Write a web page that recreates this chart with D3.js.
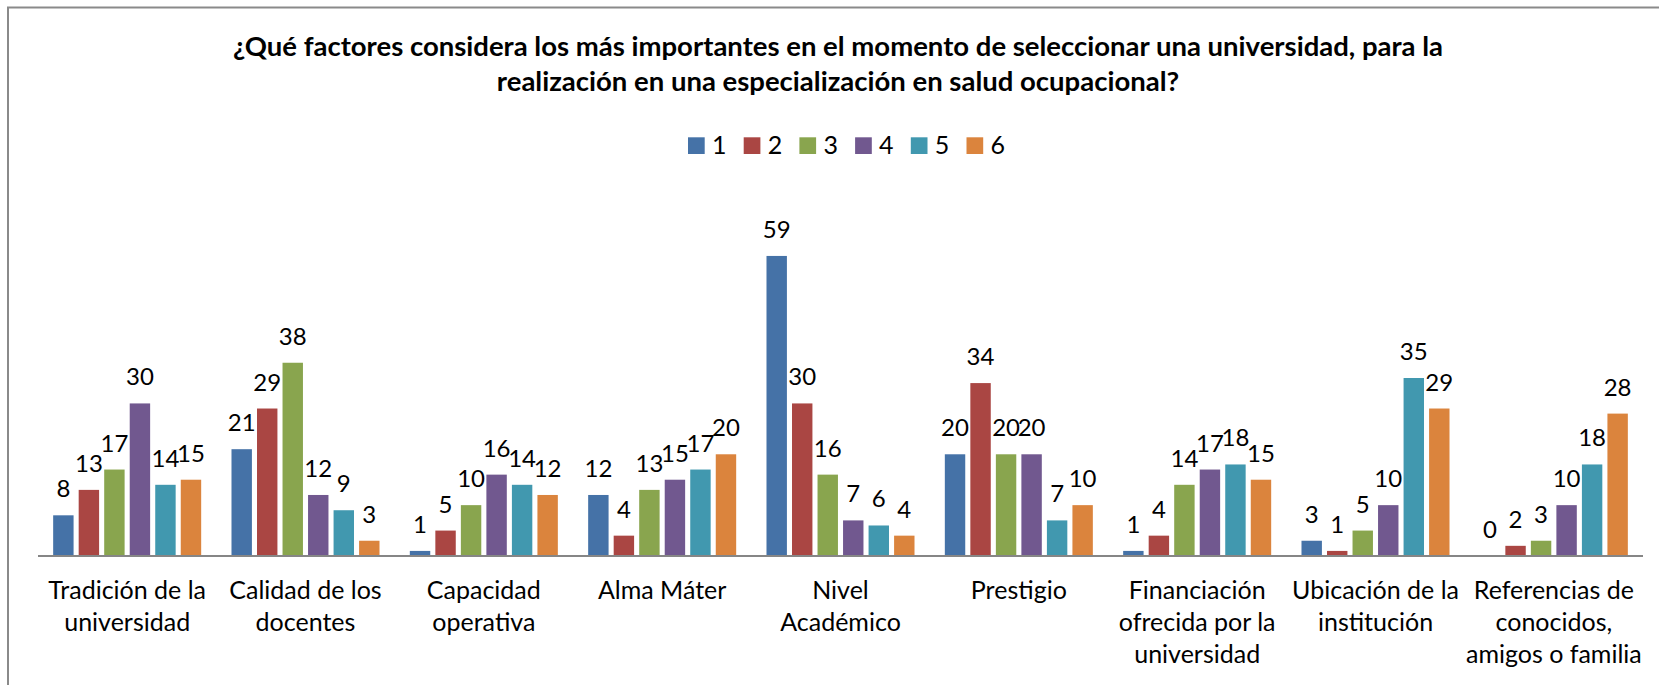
<!DOCTYPE html>
<html>
<head>
<meta charset="utf-8">
<script src="https://cdn.jsdelivr.net/npm/d3@7"></script>
<style>
  body { margin: 0; background: #fff; }
  svg { display: block; font-family: Lato, "Open Sans", sans-serif; }
</style>
</head>
<body>
<div id="chart"></div>
<script>
const width = 1659;
const height = 685;

// Datos
const categorias = [
  ["Tradición de la", "universidad"],
  ["Calidad de los", "docentes"],
  ["Capacidad", "operativa"],
  ["Alma Máter"],
  ["Nivel", "Académico"],
  ["Prestigio"],
  ["Financiación", "ofrecida por la", "universidad"],
  ["Ubicación de la", "institución"],
  ["Referencias de", "conocidos,", "amigos o familia"]
];
const series = ["1", "2", "3", "4", "5", "6"];
const serie1 = [8, 21, 1, 12, 59, 20, 1, 3, 0];
const serie2 = [13, 29, 5, 4, 30, 34, 4, 1, 2];
const serie3 = [17, 38, 10, 13, 16, 20, 14, 5, 3];
const serie4 = [30, 12, 16, 15, 7, 20, 17, 10, 10];
const serie5 = [14, 9, 14, 17, 6, 7, 18, 35, 18];
const serie6 = [15, 3, 12, 20, 4, 10, 15, 29, 28];
const colores = ["#4572A7", "#AA4643", "#89A54E", "#71588F", "#4198AF", "#DB843D"];

const titulo = [
  "¿Qué factores considera los más importantes en el momento de seleccionar una universidad, para la",
  "realización en una especialización en salud ocupacional?"
];

const valores = [serie1, serie2, serie3, serie4, serie5, serie6];

const svg = d3.select("#chart")
  .append("svg")
  .attr("width", width)
  .attr("height", height);

svg.append("rect")
  .attr("width", width)
  .attr("height", height)
  .attr("fill", "#fff");

// Borde del área del gráfico (solo arriba e izquierda son visibles)
svg.append("path")
  .attr("d", `M8,${height} L8,7.5 L${width},7.5`)
  .attr("fill", "none")
  .attr("stroke", "#8a8a8a")
  .attr("stroke-width", 2);

// Título
svg.append("text")
  .attr("x", 838)
  .attr("y", 56)
  .attr("text-anchor", "middle")
  .style("font-weight", "bold")
  .style("font-size", "27.5px")
  .selectAll("tspan")
  .data(titulo)
  .enter()
  .append("tspan")
  .attr("x", 838)
  .attr("dy", (d, i) => i === 0 ? 0 : 34.5)
  .text(d => d);

// Leyenda
const leyenda = svg.append("g");
series.forEach((s, i) => {
  const g = leyenda.append("g")
    .attr("transform", `translate(${688 + i * 55.7},137.3)`);
  g.append("rect")
    .attr("width", 16.7)
    .attr("height", 16.7)
    .attr("fill", colores[i]);
  g.append("text")
    .attr("x", 24)
    .attr("y", 16.2)
    .style("font-size", "25px")
    .text(s);
});

// Escalas
const x0 = d3.scaleBand()
  .domain(d3.range(categorias.length))
  .range([38, 1643])
  .paddingInner(0.17)
  .paddingOuter(0.085);

const x1 = d3.scaleBand()
  .domain(series)
  .range([0, x0.bandwidth()])
  .paddingInner(0.2);

const y = d3.scaleLinear()
  .domain([0, 70])
  .range([556, 200]);

const grupos = svg.append("g")
  .selectAll("g")
  .data(categorias.map((c, i) => ({ i, vals: valores.map(v => v[i]) })))
  .enter()
  .append("g")
  .attr("transform", d => `translate(${x0(d.i)},0)`);

grupos.selectAll("rect")
  .data(d => d.vals.map((v, j) => ({ serie: series[j], v, j })))
  .enter()
  .append("rect")
  .attr("x", d => x1(d.serie))
  .attr("y", d => y(d.v))
  .attr("width", x1.bandwidth())
  .attr("height", d => y(0) - y(d.v))
  .attr("fill", d => colores[d.j]);

grupos.selectAll("text.valor")
  .data(d => d.vals.map((v, j) => ({ serie: series[j], v, j })))
  .enter()
  .append("text")
  .attr("class", "valor")
  .attr("x", d => x1(d.serie) + x1.bandwidth() / 2)
  .attr("y", d => y(d.v) - 18)
  .attr("text-anchor", "middle")
  .style("font-size", "24px")
  .text(d => d.v);

// Eje horizontal
svg.append("line")
  .attr("x1", 38)
  .attr("x2", 1643)
  .attr("y1", y(0))
  .attr("y2", y(0))
  .attr("stroke", "#868686")
  .attr("stroke-width", 2);

// Etiquetas de categorías
const etiquetas = svg.append("g")
  .selectAll("text")
  .data(categorias)
  .enter()
  .append("text")
  .attr("text-anchor", "middle")
  .style("font-size", "25px")
  .attr("transform", (d, i) => `translate(${x0(i) + x0.bandwidth() / 2},598.5)`);

etiquetas.selectAll("tspan")
  .data(d => d)
  .enter()
  .append("tspan")
  .attr("x", 0)
  .attr("dy", (d, i) => i === 0 ? 0 : 32.4)
  .text(d => d);
</script>
</body>
</html>
